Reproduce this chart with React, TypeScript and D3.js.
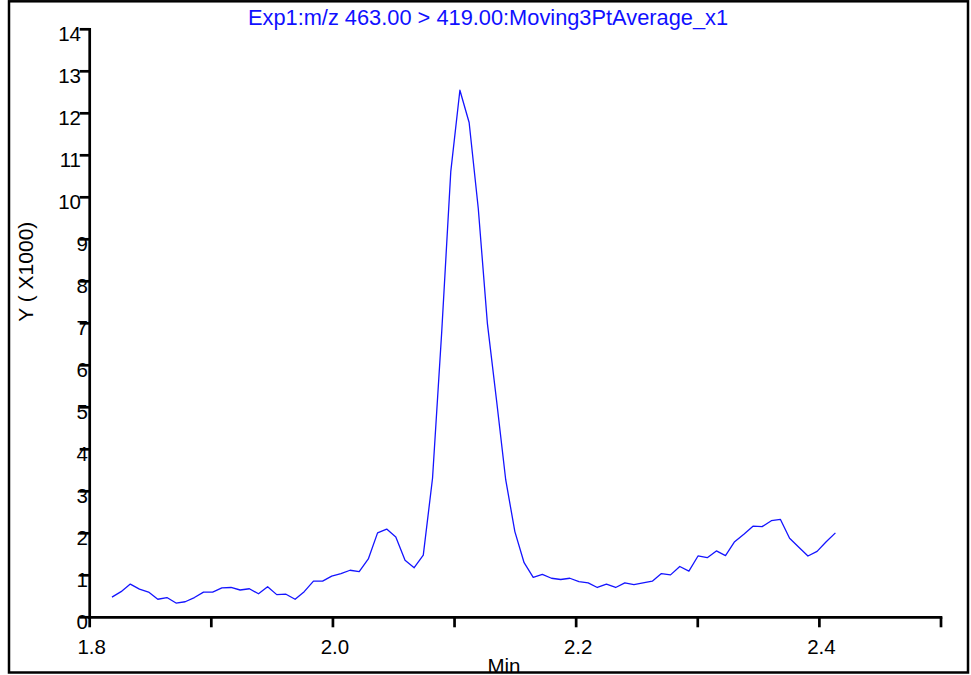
import React from "react";
import * as d3 from "d3";

const times: number[] = [
  1.8183, 1.8258, 1.8334, 1.8409, 1.8484, 1.8560, 1.8635, 1.8710, 1.8785, 1.8861,
  1.8936, 1.9011, 1.9087, 1.9162, 1.9237, 1.9313, 1.9388, 1.9463, 1.9538, 1.9614,
  1.9689, 1.9764, 1.9840, 1.9915, 1.9990, 2.0066, 2.0141, 2.0216, 2.0291, 2.0367,
  2.0442, 2.0517, 2.0593, 2.0668, 2.0743, 2.0819, 2.0894, 2.0969, 2.1044, 2.1120,
  2.1195, 2.1270, 2.1346, 2.1421, 2.1496, 2.1572, 2.1647, 2.1722, 2.1797, 2.1873,
  2.1948, 2.2023, 2.2099, 2.2174, 2.2249, 2.2325, 2.2400, 2.2475, 2.2550, 2.2626,
  2.2701, 2.2776, 2.2852, 2.2927, 2.3002, 2.3078, 2.3153, 2.3228, 2.3303, 2.3379,
  2.3454, 2.3529, 2.3605, 2.3680, 2.3755, 2.3831, 2.3906, 2.3981, 2.4056, 2.4132,
];

// intensity in thousands
const intensity: number[] = [
  0.48, 0.61, 0.79, 0.67, 0.60, 0.43, 0.47, 0.34, 0.37, 0.47,
  0.60, 0.60, 0.70, 0.71, 0.65, 0.68, 0.56, 0.73, 0.54, 0.55,
  0.43, 0.61, 0.86, 0.86, 0.98, 1.04, 1.12, 1.09, 1.39, 2.01,
  2.10, 1.91, 1.36, 1.18, 1.48, 3.31, 6.77, 10.61, 12.55, 11.78,
  9.74, 7.00, 5.15, 3.27, 2.04, 1.30, 0.95, 1.02, 0.93, 0.90,
  0.93, 0.85, 0.82, 0.71, 0.79, 0.71, 0.82, 0.78, 0.82, 0.86,
  1.04, 1.01, 1.21, 1.10, 1.46, 1.42, 1.58, 1.47, 1.80, 1.98,
  2.17, 2.16, 2.30, 2.33, 1.88, 1.67, 1.46, 1.57, 1.80, 2.01,
];

const yTicks: number[] = [0, 1, 2, 3, 4, 5, 6, 7, 8, 9, 10, 11, 12, 13, 14];
const xTicks: number[] = [1.8, 1.9, 2.0, 2.1, 2.2, 2.3, 2.4, 2.5];
const xTickLabels: string[] = ["1.8", "", "2.0", "", "2.2", "", "2.4", ""];

const title = "Exp1:m/z 463.00 > 419.00:Moving3PtAverage_x1";
const xTitle = "Min";
const yTitle = "Y ( X1000)";

const W = 971;
const H = 675;
const FONT = "'Liberation Sans', Arial, sans-serif";

export default function App() {
  const x = d3.scaleLinear().domain([1.8, 2.5]).range([89.7, 941]);
  const y = d3.scaleLinear().domain([0, 14]).range([617.3, 29.3]);
  const data = times.map((t, i) => [t, intensity[i]] as [number, number]);
  const line = d3
    .line<[number, number]>()
    .x((d) => x(d[0]))
    .y((d) => y(d[1]));

  const axisColor = "#000";
  const sw = 2.7;

  return (
    <svg
      width={W}
      height={H}
      style={{ position: "absolute", left: 0, top: 0, display: "block", background: "#fff" }}
      fontFamily={FONT}
    >
      <rect x={0} y={0} width={W} height={H} fill="#fff" />
      {/* title */}
      <text x={488} y={25} textAnchor="middle" fontSize={21.8} fill="#1010ff">
        {title}
      </text>
      {/* data line */}
      <path d={line(data) || ""} fill="none" stroke="#1414ff" strokeWidth={1.3} strokeLinejoin="round" />
      {/* y axis */}
      <line x1={x(1.8)} x2={x(1.8)} y1={y(14)} y2={y(0)} stroke={axisColor} strokeWidth={sw} strokeLinecap="square" />
      {yTicks.map((t) => (
        <g key={"y" + t}>
          <line x1={x(1.8) - 10} x2={x(1.8)} y1={y(t)} y2={y(t)} stroke={axisColor} strokeWidth={sw} />
          <text
            x={String(t).length > 1 ? 81 : 88}
            y={y(t) + 11.9}
            textAnchor="end"
            fontSize={20.5}
            fill="#000"
          >
            {String(t)}
          </text>
        </g>
      ))}
      {/* x axis */}
      <line x1={x(1.8)} x2={x(2.5)} y1={y(0)} y2={y(0)} stroke={axisColor} strokeWidth={sw} strokeLinecap="square" />
      {xTicks.map((t, i) => (
        <g key={"x" + t}>
          <line x1={x(t)} x2={x(t)} y1={y(0)} y2={y(0) + 10} stroke={axisColor} strokeWidth={sw} />
          {xTickLabels[i] && (
            <text x={x(t) + 2} y={654} textAnchor="middle" fontSize={20.5} fill="#000">
              {xTickLabels[i]}
            </text>
          )}
        </g>
      ))}
      {/* axis titles */}
      <text x={504} y={672.5} textAnchor="middle" fontSize={20.5} fill="#000">
        {xTitle}
      </text>
      <text transform="translate(33,271.7) rotate(-90)" textAnchor="middle" fontSize={21} fill="#000">
        {yTitle}
      </text>
      {/* frame */}
      <rect x={9} y={1.3} width={959} height={671.2} fill="none" stroke="#000" strokeWidth={2.5} />
    </svg>
  );
}
